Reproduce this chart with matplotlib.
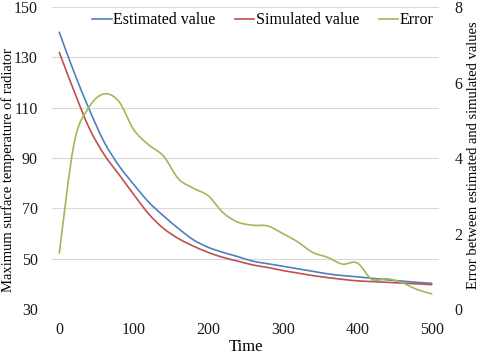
import numpy as np
import matplotlib
matplotlib.use("Agg")
import matplotlib.pyplot as plt
from matplotlib.path import Path
from matplotlib.patches import PathPatch

plt.rcParams["font.family"] = ["Liberation Serif", "DejaVu Serif"]
plt.rcParams["font.size"] = 12

time = list(range(0, 501, 20))
estimated = [140, 124, 109.5, 96.5, 87, 79.5, 72.5, 67, 62, 57.5, 54.5, 52.5, 50.8,
             49, 48, 47, 46, 45, 44, 43.3, 42.8, 42.2, 41.6, 41.1, 40.6, 40.2]
simulated = [132, 116.5, 102, 91.5, 83.5, 75.5, 67.8, 62, 58, 55, 52.5, 50.5, 49,
             47.5, 46.5, 45.3, 44.3, 43.3, 42.5, 41.8, 41.2, 40.9, 40.6, 40.3, 40.0, 39.7]
error = [1.48, 4.4, 5.35, 5.7, 5.5, 4.75, 4.35, 4.05, 3.45, 3.2, 3.0, 2.55, 2.3,
         2.22, 2.2, 2.0, 1.78, 1.5, 1.37, 1.19, 1.22, 0.78, 0.8, 0.7, 0.52, 0.4]


def smooth_line(ax, x, y, color, label):
    # Excel-style smoothed line: Catmull-Rom converted to cubic Bezier
    x = np.asarray(x, float)
    y = np.asarray(y, float)
    verts = [(x[0], y[0])]
    codes = [Path.MOVETO]
    n = len(x)
    for i in range(n - 1):
        p0 = (x[max(i - 1, 0)], y[max(i - 1, 0)])
        p1 = (x[i], y[i])
        p2 = (x[i + 1], y[i + 1])
        p3 = (x[min(i + 2, n - 1)], y[min(i + 2, n - 1)])
        c1 = (p1[0] + (p2[0] - p0[0]) / 6, p1[1] + (p2[1] - p0[1]) / 6)
        c2 = (p2[0] - (p3[0] - p1[0]) / 6, p2[1] - (p3[1] - p1[1]) / 6)
        verts += [c1, c2, p2]
        codes += [Path.CURVE4] * 3
    patch = PathPatch(Path(verts, codes), facecolor="none", edgecolor=color,
                      lw=1.2, capstyle="round", joinstyle="round")
    ax.add_patch(patch)
    handle, = ax.plot([], [], color=color, lw=1.2, label=label)
    return handle


fig = plt.figure(figsize=(4.8, 3.56), dpi=100)
ax = fig.add_axes([0.108, 0.132, 0.807, 0.848])
ax2 = ax.twinx()

h1 = smooth_line(ax, time, estimated, "#4F81BD", "Estimated value")
h2 = smooth_line(ax, time, simulated, "#C0504D", "Simulated value")
h3 = smooth_line(ax2, time, error, "#9BBB59", "Error")

ax.set_xlim(-10, 510)
ax.set_ylim(30, 150)
ax.set_yticks(range(30, 151, 20))
ax.set_xticks(range(0, 501, 100))
ax2.set_ylim(0, 8)
ax2.set_yticks(range(0, 9, 2))

ax.grid(axis="y", color="#D9D9D9", lw=0.8)
ax.set_axisbelow(True)
for a in (ax, ax2):
    for s in a.spines.values():
        s.set_visible(False)
    a.tick_params(length=0, labelsize=11.5, colors="#1a1a1a")

ax.tick_params(axis="y", pad=10)
ax.tick_params(axis="x", pad=9)
ax2.tick_params(axis="y", pad=11)

ax.set_xlabel("Time", fontsize=12, labelpad=1)
ax.set_ylabel("Maximum surface temperature of radiator", fontsize=10.5)
ax.yaxis.set_label_coords(-0.095, 0.46)
ax2.set_ylabel("Error between estimated and simulated values", fontsize=10.5,
               rotation=90)
ax2.yaxis.set_label_coords(1.072, 0.51)

ax2.legend(handles=[h1, h2, h3], loc="upper right", ncol=3, frameon=False,
           bbox_to_anchor=(1.01, 1.015), handlelength=1.2, handletextpad=0.12,
           columnspacing=1.2, borderaxespad=0.2, fontsize=11.5)

fig.savefig("out.png", dpi=100)
